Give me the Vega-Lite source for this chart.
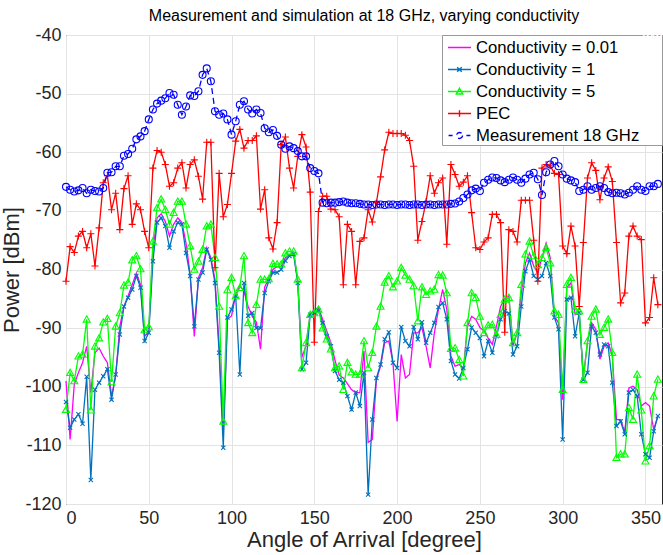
{
"$schema": "https://vega.github.io/schema/vega-lite/v6.json",
"width": 596, "height": 469,
"autosize": {"type": "none"},
"padding": {"left": 66, "top": 35, "right": 1, "bottom": 51},
"background": "white",
"config": {
 "font": "Liberation Sans",
 "view": {"stroke": "#262626", "strokeWidth": 1},
 "axis": {"domain": false, "ticks": false, "grid": true, "gridColor": "#e3e3e3", "gridWidth": 1, "labelFontSize": 18, "labelColor": "#262626", "titleFontSize": 22, "titleFontWeight": "normal", "titleColor": "#262626", "labelFont": "Liberation Sans", "titleFont": "Liberation Sans"},
 "legend": {"orient": "top-right", "offset": 0, "padding": 0, "symbolOffset": 5, "fillColor": "white", "strokeColor": "#999999", "labelFontSize": 16.7, "labelFont": "Liberation Sans", "labelColor": "#000000", "symbolSize": 529, "rowPadding": 0, "labelLimit": 400, "labelOffset": 4}
},
"title": {"text": "Measurement and simulation at 18 GHz, varying conductivity", "fontSize": 16, "fontWeight": "normal", "color": "#000000", "offset": 2, "frame": "group", "anchor": "middle", "font": "Liberation Sans"},
"data": {"values": [
{"a":0,"m":-65.9,"p":-82.0,"s":-99.0,"c":-102.6,"g":-103.9},
{"a":2.5,"m":-66.4,"p":-76.1,"s":-109.0,"c":-107.0,"g":-97.6},
{"a":5,"m":-66.7,"p":-77.1,"s":-99.6,"c":-105.6,"g":-99.0},
{"a":7.5,"m":-66.5,"p":-74.3,"s":-97.6,"c":-104.7,"g":-94.8},
{"a":10,"m":-66.1,"p":-73.5,"s":-95.9,"c":-106.3,"g":-94.5},
{"a":12.5,"m":-67.0,"p":-76.3,"s":-93.1,"c":-98.3,"g":-88.5},
{"a":15,"m":-66.4,"p":-73.9,"s":-101.0,"c":-115.9,"g":-104.0},
{"a":17.5,"m":-66.6,"p":-79.4,"s":-94.2,"c":-100.5,"g":-93.1},
{"a":20,"m":-66.7,"p":-72.9,"s":-93.4,"c":-99.3,"g":-91.7},
{"a":22.5,"m":-66.1,"p":-65.2,"s":-94.8,"c":-98.2,"g":-89.0},
{"a":25,"m":-63.5,"p":-64.0,"s":-95.9,"c":-97.0,"g":-88.4},
{"a":27.5,"m":-63.4,"p":-69.8,"s":-101.6,"c":-102.2,"g":-99.2},
{"a":30,"m":-62.4,"p":-67.0,"s":-98.2,"c":-97.9,"g":-89.7},
{"a":32.5,"m":-62.4,"p":-73.2,"s":-89.7,"c":-91.1,"g":-87.4},
{"a":35,"m":-60.6,"p":-66.2,"s":-86.3,"c":-86.3,"g":-82.7},
{"a":37.5,"m":-60.3,"p":-64.0,"s":-84.5,"c":-84.8,"g":-82.2},
{"a":40,"m":-59.4,"p":-72.3,"s":-82.6,"c":-83.4,"g":-78.4},
{"a":42.5,"m":-57.8,"p":-68.8,"s":-80.6,"c":-81.1,"g":-77.7},
{"a":45,"m":-57.3,"p":-69.8,"s":-82.6,"c":-83.1,"g":-79.9},
{"a":47.5,"m":-56.4,"p":-73.5,"s":-91.4,"c":-92.2,"g":-90.3},
{"a":50,"m":-54.4,"p":-76.3,"s":-90.5,"c":-90.8,"g":-89.8},
{"a":52.5,"m":-52.7,"p":-62.7,"s":-76.6,"c":-78.6,"g":-75.2},
{"a":55,"m":-51.7,"p":-59.7,"s":-71.2,"c":-72.0,"g":-69.5},
{"a":57.5,"m":-51.2,"p":-60.0,"s":-70.5,"c":-71.2,"g":-68.0},
{"a":60,"m":-50.8,"p":-62.1,"s":-71.8,"c":-72.6,"g":-69.8},
{"a":62.5,"m":-49.9,"p":-65.8,"s":-74.3,"c":-76.3,"g":-72.3},
{"a":65,"m":-50.2,"p":-65.2,"s":-72.3,"c":-73.5,"g":-70.3},
{"a":67.5,"m":-51.9,"p":-62.7,"s":-71.2,"c":-72.0,"g":-68.4},
{"a":70,"m":-53.6,"p":-61.8,"s":-72.0,"c":-72.3,"g":-68.4},
{"a":72.5,"m":-52.2,"p":-66.1,"s":-75.5,"c":-77.2,"g":-72.3},
{"a":75,"m":-50.3,"p":-62.1,"s":-80.9,"c":-81.1,"g":-76.0},
{"a":77.5,"m":-50.4,"p":-61.3,"s":-91.4,"c":-89.7,"g":-80.0},
{"a":80,"m":-49.6,"p":-64.1,"s":-81.4,"c":-81.7,"g":-78.6},
{"a":82.5,"m":-46.8,"p":-68.0,"s":-79.7,"c":-80.5,"g":-76.6},
{"a":85,"m":-45.7,"p":-58.3,"s":-76.3,"c":-76.6,"g":-72.6},
{"a":87.5,"m":-47.9,"p":-58.3,"s":-78.0,"c":-78.3,"g":-72.3},
{"a":90,"m":-53.0,"p":-79.7,"s":-81.7,"c":-82.3,"g":-78.0},
{"a":92.5,"m":-53.6,"p":-63.6,"s":-93.1,"c":-94.2,"g":-86.3},
{"a":95,"m":-53.4,"p":-71.0,"s":-107.8,"c":-110.4,"g":-105.9},
{"a":97.5,"m":-54.4,"p":-68.9,"s":-88.5,"c":-88.2,"g":-83.5},
{"a":100,"m":-57.0,"p":-63.6,"s":-87.9,"c":-86.8,"g":-81.4},
{"a":102.5,"m":-54.7,"p":-58.1,"s":-84.3,"c":-84.5,"g":-84.5},
{"a":105,"m":-51.9,"p":-56.1,"s":-82.8,"c":-97.9,"g":-83.1},
{"a":107.5,"m":-51.3,"p":-59.3,"s":-83.7,"c":-82.3,"g":-77.7},
{"a":110,"m":-52.7,"p":-58.0,"s":-86.3,"c":-87.9,"g":-89.1},
{"a":112.5,"m":-53.4,"p":-58.0,"s":-88.0,"c":-87.4,"g":-90.8},
{"a":115,"m":-52.7,"p":-57.2,"s":-89.0,"c":-90.0,"g":-86.0},
{"a":117.5,"m":-53.3,"p":-69.7,"s":-93.6,"c":-90.0,"g":-81.7},
{"a":120,"m":-55.9,"p":-66.4,"s":-83.0,"c":-84.0,"g":-81.7},
{"a":122.5,"m":-56.6,"p":-74.6,"s":-81.5,"c":-82.0,"g":-81.6},
{"a":125,"m":-56.2,"p":-76.5,"s":-80.0,"c":-80.5,"g":-79.0},
{"a":127.5,"m":-57.2,"p":-72.0,"s":-79.5,"c":-80.5,"g":-79.1},
{"a":130,"m":-58.7,"p":-58.7,"s":-79.5,"c":-80.0,"g":-79.1},
{"a":132.5,"m":-59.4,"p":-57.4,"s":-78.0,"c":-78.5,"g":-77.2},
{"a":135,"m":-59.0,"p":-62.7,"s":-77.5,"c":-77.7,"g":-76.9},
{"a":137.5,"m":-59.3,"p":-66.1,"s":-77.2,"c":-77.4,"g":-76.9},
{"a":140,"m":-59.8,"p":-60.7,"s":-82.0,"c":-82.3,"g":-81.7},
{"a":142.5,"m":-60.7,"p":-57.0,"s":-95.0,"c":-97.0,"g":-96.8},
{"a":145,"m":-60.7,"p":-59.1,"s":-93.0,"c":-95.9,"g":-92.5},
{"a":147.5,"m":-62.7,"p":-66.8,"s":-87.5,"c":-87.7,"g":-87.7},
{"a":150,"m":-63.2,"p":-92.4,"s":-87.0,"c":-87.4,"g":-87.4},
{"a":152.5,"m":-63.6,"p":-70.1,"s":-86.5,"c":-87.0,"g":-86.8},
{"a":155,"m":-68.6,"p":-67.5,"s":-88.5,"c":-89.1,"g":-90.0},
{"a":157.5,"m":-68.7,"p":-67.5,"s":-90.5,"c":-91.4,"g":-91.9},
{"a":160,"m":-68.6,"p":-69.7,"s":-92.5,"c":-93.1,"g":-93.6},
{"a":162.5,"m":-68.6,"p":-69.8,"s":-95.5,"c":-97.3,"g":-96.8},
{"a":165,"m":-68.5,"p":-71.0,"s":-98.0,"c":-98.8,"g":-96.5},
{"a":167.5,"m":-68.4,"p":-82.6,"s":-98.5,"c":-99.3,"g":-100.5},
{"a":170,"m":-68.6,"p":-72.3,"s":-99.5,"c":-101.6,"g":-95.9},
{"a":172.5,"m":-68.7,"p":-73.5,"s":-100.5,"c":-103.9,"g":-97.5},
{"a":175,"m":-68.7,"p":-82.6,"s":-101.0,"c":-101.0,"g":-97.9},
{"a":177.5,"m":-68.8,"p":-75.2,"s":-101.0,"c":-103.3,"g":-97.9},
{"a":180,"m":-68.9,"p":-74.6,"s":-93.9,"c":-97.6,"g":-92.2},
{"a":182.5,"m":-68.9,"p":-69.8,"s":-109.5,"c":-118.4,"g":-96.8},
{"a":185,"m":-69.0,"p":-71.9,"s":-109.0,"c":-105.6,"g":-94.2},
{"a":187.5,"m":-68.9,"p":-68.6,"s":-98.8,"c":-98.5,"g":-89.7},
{"a":190,"m":-68.9,"p":-64.2,"s":-96.5,"c":-96.2,"g":-86.3},
{"a":192.5,"m":-69.0,"p":-59.6,"s":-92.5,"c":-91.9,"g":-82.2},
{"a":195,"m":-68.9,"p":-56.6,"s":-92.2,"c":-90.7,"g":-81.1},
{"a":197.5,"m":-68.9,"p":-56.8,"s":-95.9,"c":-95.9,"g":-83.0},
{"a":200,"m":-69.0,"p":-56.8,"s":-105.9,"c":-96.8,"g":-82.0},
{"a":202.5,"m":-68.9,"p":-56.8,"s":-94.5,"c":-89.8,"g":-79.7},
{"a":205,"m":-68.9,"p":-57.1,"s":-98.5,"c":-92.2,"g":-81.0},
{"a":207.5,"m":-69.0,"p":-58.0,"s":-97.9,"c":-93.1,"g":-81.7},
{"a":210,"m":-68.9,"p":-62.4,"s":-90.8,"c":-89.8,"g":-82.8},
{"a":212.5,"m":-68.9,"p":-75.0,"s":-90.8,"c":-91.9,"g":-88.8},
{"a":215,"m":-69.0,"p":-71.8,"s":-89.9,"c":-89.0,"g":-83.0},
{"a":217.5,"m":-68.9,"p":-68.4,"s":-93.1,"c":-92.5,"g":-84.3},
{"a":220,"m":-68.9,"p":-64.0,"s":-96.8,"c":-90.8,"g":-83.7},
{"a":222.5,"m":-69.0,"p":-67.0,"s":-90.8,"c":-89.1,"g":-83.4},
{"a":225,"m":-68.9,"p":-65.2,"s":-86.8,"c":-86.4,"g":-80.9},
{"a":227.5,"m":-68.9,"p":-64.4,"s":-83.4,"c":-85.7,"g":-81.0},
{"a":230,"m":-68.9,"p":-75.7,"s":-86.8,"c":-88.5,"g":-84.0},
{"a":232.5,"m":-68.8,"p":-62.1,"s":-94.8,"c":-95.6,"g":-93.5},
{"a":235,"m":-68.75,"p":-63.8,"s":-96.5,"c":-97.9,"g":-93.4},
{"a":237.5,"m":-68.4,"p":-65.8,"s":-96.2,"c":-98.6,"g":-95.4},
{"a":240,"m":-67.8,"p":-65.1,"s":-97.0,"c":-96.8,"g":-98.2},
{"a":242.5,"m":-67.2,"p":-64.0,"s":-89.7,"c":-93.6,"g":-89.1},
{"a":245,"m":-66.5,"p":-70.3,"s":-88.0,"c":-89.9,"g":-84.0},
{"a":247.5,"m":-66.2,"p":-76.3,"s":-88.5,"c":-90.8,"g":-84.8},
{"a":250,"m":-66.6,"p":-76.6,"s":-89.9,"c":-91.7,"g":-88.0},
{"a":252.5,"m":-65.2,"p":-75.3,"s":-90.5,"c":-94.8,"g":-90.8},
{"a":255,"m":-64.7,"p":-74.6,"s":-91.7,"c":-92.2,"g":-89.5},
{"a":257.5,"m":-64.3,"p":-70.6,"s":-92.8,"c":-94.2,"g":-89.4},
{"a":260,"m":-64.4,"p":-70.6,"s":-89.7,"c":-91.4,"g":-91.1},
{"a":262.5,"m":-64.8,"p":-72.0,"s":-86.3,"c":-88.5,"g":-87.7},
{"a":265,"m":-65.1,"p":-90.7,"s":-85.0,"c":-87.1,"g":-85.1},
{"a":267.5,"m":-64.7,"p":-73.2,"s":-84.5,"c":-87.5,"g":-84.8},
{"a":270,"m":-64.3,"p":-73.5,"s":-93.1,"c":-94.5,"g":-92.5},
{"a":272.5,"m":-64.7,"p":-75.3,"s":-90.8,"c":-93.1,"g":-90.8},
{"a":275,"m":-65.2,"p":-68.2,"s":-84.0,"c":-86.3,"g":-82.6},
{"a":277.5,"m":-64.5,"p":-68.2,"s":-78.9,"c":-80.3,"g":-77.4},
{"a":280,"m":-63.8,"p":-68.2,"s":-77.2,"c":-78.3,"g":-75.2},
{"a":282.5,"m":-63.5,"p":-75.0,"s":-79.4,"c":-81.1,"g":-77.7},
{"a":285,"m":-64.6,"p":-82.0,"s":-80.6,"c":-81.7,"g":-79.2},
{"a":287.5,"m":-67.3,"p":-62.7,"s":-78.0,"c":-81.1,"g":-78.0},
{"a":290,"m":-63.4,"p":-62.1,"s":-75.5,"c":-78.9,"g":-76.3},
{"a":292.5,"m":-62.1,"p":-62.3,"s":-78.0,"c":-81.1,"g":-78.9},
{"a":295,"m":-61.5,"p":-63.6,"s":-88.0,"c":-88.2,"g":-87.1},
{"a":297.5,"m":-62.4,"p":-63.8,"s":-89.1,"c":-90.2,"g":-87.7},
{"a":300,"m":-63.8,"p":-76.0,"s":-102.2,"c":-109.0,"g":-100.5},
{"a":302.5,"m":-64.5,"p":-77.3,"s":-83.1,"c":-85.1,"g":-82.6},
{"a":305,"m":-64.8,"p":-72.6,"s":-82.3,"c":-84.8,"g":-81.4},
{"a":307.5,"m":-65.1,"p":-76.0,"s":-87.7,"c":-91.4,"g":-86.8},
{"a":310,"m":-66.6,"p":-86.3,"s":-87.5,"c":-87.4,"g":-87.1},
{"a":312.5,"m":-66.4,"p":-75.4,"s":-98.2,"c":-98.8,"g":-98.8},
{"a":315,"m":-65.8,"p":-64.4,"s":-92.5,"c":-97.6,"g":-92.2},
{"a":317.5,"m":-66.4,"p":-61.8,"s":-89.1,"c":-89.7,"g":-88.0},
{"a":320,"m":-66.1,"p":-63.1,"s":-90.2,"c":-90.8,"g":-86.8},
{"a":322.5,"m":-65.8,"p":-68.1,"s":-95.3,"c":-94.5,"g":-91.1},
{"a":325,"m":-66.1,"p":-64.4,"s":-93.1,"c":-92.8,"g":-89.9},
{"a":327.5,"m":-66.8,"p":-62.5,"s":-92.5,"c":-93.1,"g":-88.5},
{"a":330,"m":-67.0,"p":-65.0,"s":-94.8,"c":-99.3,"g":-94.2},
{"a":332.5,"m":-66.9,"p":-75.4,"s":-105.6,"c":-106.7,"g":-112.1},
{"a":335,"m":-67.0,"p":-85.7,"s":-105.6,"c":-105.9,"g":-111.5},
{"a":337.5,"m":-67.2,"p":-84.0,"s":-107.8,"c":-108.1,"g":-111.5},
{"a":340,"m":-66.9,"p":-74.3,"s":-100.2,"c":-101.0,"g":-103.6},
{"a":342.5,"m":-66.4,"p":-72.6,"s":-99.9,"c":-100.5,"g":-105.6},
{"a":345,"m":-65.8,"p":-74.3,"s":-100.5,"c":-101.6,"g":-97.9},
{"a":347.5,"m":-66.4,"p":-74.9,"s":-103.3,"c":-108.1,"g":-104.0},
{"a":350,"m":-66.6,"p":-89.1,"s":-102.7,"c":-111.5,"g":-112.7},
{"a":352.5,"m":-65.8,"p":-88.2,"s":-103.3,"c":-112.1,"g":-110.1},
{"a":355,"m":-65.8,"p":-81.4,"s":-107.3,"c":-107.6,"g":-101.6},
{"a":357.5,"m":-65.4,"p":-86.0,"s":-105.0,"c":-105.0,"g":-98.75}
]},
"transform": [{"fold": ["s","c","g","p","m"], "as": ["k","v"]}],
"encoding": {
 "x": {"field": "a", "type": "quantitative", "scale": {"domain": [0,360], "nice": false}, "axis": {"values": [0,50,100,150,200,250,300,350], "title": "Angle of Arrival [degree]", "labelPadding": 5, "titlePadding": 2}},
 "y": {"field": "v", "type": "quantitative", "scale": {"domain": [-120,-40], "nice": false}, "axis": {"values": [-120,-110,-100,-90,-80,-70,-60,-50,-40], "title": "Power [dBm]", "labelExpr": "'' + datum.value", "labelPadding": 5, "titlePadding": 1}},
 "color": {"field": "k", "type": "nominal", "scale": {"domain": ["s","c","g","p","m"], "range": ["#FF00FF","#0072BD","#00FF00","#FF0000","#0000FF"]},
  "legend": {"title": "WW", "titleOrient": "right", "titleColor": "white", "titleFontSize": 10, "titlePadding": 4, "titleAnchor": "start",
   "labelExpr": "datum.label == 's' ? 'Conductivity = 0.01' : datum.label == 'c' ? 'Conductivity = 1' : datum.label == 'g' ? 'Conductivity = 5' : datum.label == 'p' ? 'PEC' : 'Measurement 18 GHz'",
   "encode": {"symbols": {"update": {
     "shape": {"signal": "datum.value == 's' ? 'M-1,0H1' : datum.value == 'c' ? 'M-1,0H1M-0.2,-0.2L0.2,0.2M-0.2,0.2L0.2,-0.2' : datum.value == 'g' ? 'M-1,0H1M0,-0.28L0.28,0.22L-0.28,0.22Z' : datum.value == 'p' ? 'M-1,0H1M0,-0.28V0.28' : 'M-0.95,0H-0.6M0.6,0H0.95M0.26,0A0.26,0.26 0 1,1 -0.26,0A0.26,0.26 0 1,1 0.26,0Z'"},
     "fill": {"value": "transparent"},
     "strokeDash": {"value": []},
     "strokeWidth": {"value": 1.4},
     "opacity": {"value": 1}
   }}}}}
},
"layer": [
 {"mark": {"type": "line", "strokeWidth": 1.3},
  "encoding": {"strokeDash": {"field": "k", "type": "nominal", "scale": {"domain": ["s","c","g","p","m"], "range": [[1,0],[1,0],[1,0],[1,0],[6,4]]}, "legend": null}}},
 {"transform": [{"filter": "datum.k != 's'"}],
  "mark": {"type": "point", "filled": false, "strokeWidth": 1.1, "size": 49, "opacity": 1},
  "encoding": {"shape": {"field": "k", "type": "nominal", "scale": {"domain": ["c","g","p","m"], "range": ["M-0.6,-0.6L0.6,0.6M-0.6,0.6L0.6,-0.6","M0,-1L1,0.8L-1,0.8Z","M-1,0H1M0,-1V1","M1,0A1,1 0 1,1 -1,0A1,1 0 1,1 1,0Z"]}, "legend": null}}}
]
}
